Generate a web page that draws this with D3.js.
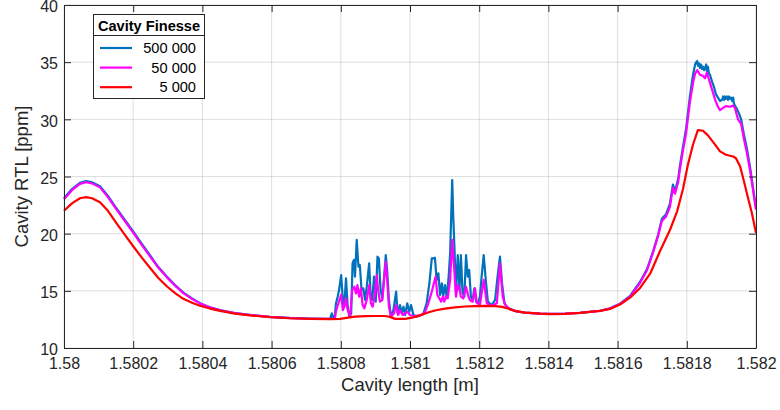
<!DOCTYPE html>
<html>
<head>
<meta charset="utf-8">
<script src="https://cdn.jsdelivr.net/npm/d3@7"></script>
<style>
  html, body { margin: 0; padding: 0; background: #fff; }
  svg { display: block; font-family: "Liberation Sans", Arial, Helvetica, sans-serif; }
</style>
</head>
<body>
<svg id="chart" width="780" height="410"></svg>
<script>
// Round-trip loss of the cavity versus its length, for three cavity finesse values.
// Each series is a list of [length (m), RTL (ppm)] samples.

const finesse500k = [
  [1.580000, 23.1], [1.580023, 23.9], [1.580046, 24.45], [1.580064, 24.6], [1.580081, 24.5],
  [1.580104, 24.15], [1.580127, 23.3], [1.580152, 22.2], [1.580176, 21.2], [1.580200, 20.2],
  [1.580225, 19.1], [1.580249, 18.1], [1.580272, 17.1], [1.580297, 16.25], [1.580321, 15.5],
  [1.580345, 14.85], [1.580370, 14.33], [1.580393, 13.92], [1.580422, 13.57], [1.580451, 13.31],
  [1.580494, 13.06], [1.580538, 12.89], [1.580595, 12.73], [1.580653, 12.63], [1.580711, 12.57],
  [1.580769, 12.54], [1.580774, 13.03], [1.580777, 12.59], [1.580783, 12.9], [1.580786, 13.91],
  [1.580790, 14.34], [1.580795, 15.07], [1.580801, 16.38], [1.580806, 14.2], [1.580810, 13.61],
  [1.580815, 16.09], [1.580820, 13.61], [1.580825, 12.74], [1.580830, 13.03], [1.580834, 17.41],
  [1.580838, 17.70], [1.580841, 16.24], [1.580846, 19.45], [1.580851, 17.11], [1.580855, 17.26],
  [1.580860, 15.07], [1.580865, 15.22], [1.580870, 14.2], [1.580875, 15.36], [1.580882, 17.41],
  [1.580886, 14.78], [1.580891, 14.2], [1.580896, 16.24], [1.580901, 14.05], [1.580906, 17.99],
  [1.580910, 17.84], [1.580915, 15.07], [1.580920, 14.34], [1.580926, 16.53], [1.580930, 18.13],
  [1.580934, 16.82], [1.580939, 14.2], [1.580945, 12.74], [1.580952, 13.32], [1.580960, 14.93],
  [1.580964, 13.03], [1.580971, 13.76], [1.580976, 13.03], [1.580981, 13.61], [1.580986, 12.89],
  [1.580992, 13.91], [1.580998, 13.18], [1.581003, 13.76], [1.581010, 12.89], [1.581019, 12.74],
  [1.581029, 12.85], [1.581038, 12.95], [1.581048, 13.91], [1.581056, 15.66], [1.581063, 17.84],
  [1.581067, 17.84], [1.581072, 17.9], [1.581077, 15.95], [1.581082, 16.53], [1.581087, 14.64],
  [1.581092, 15.66], [1.581096, 14.49], [1.581101, 15.51], [1.581106, 14.49], [1.581111, 15.95],
  [1.581116, 18.28], [1.581119, 21.5], [1.581122, 24.69], [1.581125, 21.5], [1.581128, 19.15],
  [1.581133, 14.78], [1.581138, 18.13], [1.581143, 15.07], [1.581147, 18.13], [1.581152, 14.78],
  [1.581157, 14.49], [1.581162, 18.13], [1.581167, 16.24], [1.581171, 16.82], [1.581176, 14.49],
  [1.581181, 14.2], [1.581186, 15.22], [1.581191, 14.05], [1.581197, 13.91], [1.581202, 14.5],
  [1.581207, 16.24], [1.581213, 18.13], [1.581219, 15.95], [1.581225, 14.05], [1.581236, 13.76],
  [1.581246, 14.2], [1.581252, 15.95], [1.581260, 18.0], [1.581266, 15.66], [1.581273, 13.91],
  [1.581284, 13.47], [1.581308, 13.2], [1.581332, 13.1], [1.581376, 13.0], [1.581405, 12.98],
  [1.581448, 13.0], [1.581491, 13.08], [1.581549, 13.26], [1.581578, 13.47], [1.581607, 13.88],
  [1.581636, 14.55], [1.581665, 15.8], [1.581685, 16.9], [1.581702, 18.4], [1.581717, 19.9],
  [1.581728, 21.3], [1.581740, 21.7], [1.581751, 22.6], [1.581760, 24.3], [1.581766, 23.7],
  [1.581775, 24.8], [1.581780, 25.9], [1.581789, 27.6], [1.581798, 29.2], [1.581809, 32.0],
  [1.581818, 33.9], [1.581824, 34.8], [1.581827, 35.0], [1.581830, 35.1], [1.581832, 34.7],
  [1.581835, 34.9], [1.581838, 34.5], [1.581841, 34.8], [1.581844, 34.4], [1.581847, 34.6],
  [1.581850, 34.3], [1.581853, 34.5], [1.581856, 34.8], [1.581858, 34.2], [1.581861, 34.6],
  [1.581864, 34.0], [1.581867, 33.9], [1.581873, 33.3], [1.581879, 32.8], [1.581884, 32.2],
  [1.581890, 31.9], [1.581896, 31.6], [1.581902, 31.7], [1.581905, 32.0], [1.581908, 31.7],
  [1.581910, 32.0], [1.581913, 31.8], [1.581916, 32.0], [1.581919, 31.7], [1.581922, 32.0],
  [1.581925, 31.8], [1.581928, 31.9], [1.581931, 31.6], [1.581934, 31.9], [1.581936, 31.4],
  [1.581939, 31.2], [1.581945, 30.9], [1.581951, 30.5], [1.581957, 30.0], [1.581965, 28.7],
  [1.581974, 27.4], [1.581983, 25.8], [1.581991, 24.1], [1.582000, 22.2]
];

const finesse50k = [
  [1.580000, 23.0], [1.580023, 23.8], [1.580046, 24.35], [1.580064, 24.5], [1.580081, 24.4],
  [1.580104, 24.05], [1.580127, 23.2], [1.580152, 22.1], [1.580176, 21.1], [1.580200, 20.1],
  [1.580225, 19.0], [1.580249, 18.0], [1.580272, 17.05], [1.580297, 16.2], [1.580321, 15.45],
  [1.580345, 14.8], [1.580370, 14.3], [1.580393, 13.9], [1.580422, 13.55], [1.580451, 13.3],
  [1.580494, 13.05], [1.580538, 12.88], [1.580595, 12.72], [1.580653, 12.62], [1.580711, 12.56],
  [1.580769, 12.54], [1.580783, 12.59], [1.580786, 13.2], [1.580793, 13.91], [1.580801, 14.64],
  [1.580806, 13.32], [1.580810, 13.61], [1.580815, 14.34], [1.580820, 13.32], [1.580827, 12.74],
  [1.580833, 15.07], [1.580839, 15.36], [1.580844, 14.78], [1.580848, 15.51], [1.580853, 14.49],
  [1.580858, 15.22], [1.580863, 13.76], [1.580868, 13.47], [1.580875, 14.2], [1.580882, 15.51],
  [1.580887, 13.91], [1.580892, 13.61], [1.580899, 14.78], [1.580904, 16.38], [1.580908, 15.07],
  [1.580913, 14.05], [1.580920, 14.2], [1.580925, 15.95], [1.580930, 17.55], [1.580934, 15.95],
  [1.580939, 13.61], [1.580945, 12.74], [1.580954, 13.03], [1.580960, 13.76], [1.580966, 12.89],
  [1.580971, 13.32], [1.580979, 12.89], [1.580986, 13.03], [1.580992, 13.18], [1.581000, 12.89],
  [1.581010, 12.8], [1.581029, 12.85], [1.581043, 13.1], [1.581053, 13.91], [1.581063, 14.93],
  [1.581069, 15.66], [1.581074, 16.24], [1.581079, 14.64], [1.581085, 14.34], [1.581090, 14.05],
  [1.581095, 14.49], [1.581099, 14.05], [1.581104, 14.49], [1.581109, 14.34], [1.581116, 15.95],
  [1.581119, 17.8], [1.581122, 19.45], [1.581125, 18.0], [1.581128, 16.82], [1.581133, 14.49],
  [1.581138, 15.51], [1.581143, 15.22], [1.581147, 14.49], [1.581154, 14.34], [1.581162, 15.36],
  [1.581169, 14.49], [1.581173, 14.2], [1.581181, 14.05], [1.581188, 15.22], [1.581193, 13.96],
  [1.581202, 13.76], [1.581213, 15.95], [1.581222, 13.91], [1.581236, 13.7], [1.581251, 13.91],
  [1.581260, 17.41], [1.581268, 14.49], [1.581275, 13.76], [1.581289, 13.4], [1.581308, 13.2],
  [1.581332, 13.1], [1.581376, 13.0], [1.581405, 12.98], [1.581448, 13.0], [1.581491, 13.08],
  [1.581549, 13.25], [1.581578, 13.45], [1.581607, 13.85], [1.581636, 14.5], [1.581665, 15.7],
  [1.581685, 16.8], [1.581702, 18.3], [1.581717, 19.8], [1.581728, 21.1], [1.581740, 21.5],
  [1.581751, 22.3], [1.581760, 24.0], [1.581766, 23.5], [1.581775, 24.5], [1.581780, 25.6],
  [1.581789, 27.3], [1.581798, 28.8], [1.581809, 31.5], [1.581818, 33.2], [1.581824, 34.0],
  [1.581830, 34.3], [1.581838, 33.9], [1.581847, 33.8], [1.581853, 33.6], [1.581858, 34.1],
  [1.581864, 33.5], [1.581873, 32.6], [1.581882, 31.7], [1.581890, 31.1], [1.581896, 30.8],
  [1.581905, 31.0], [1.581913, 31.15], [1.581925, 31.1], [1.581934, 31.2], [1.581939, 31.0],
  [1.581948, 30.0], [1.581957, 29.6], [1.581965, 28.3], [1.581974, 27.0], [1.581983, 25.5],
  [1.581991, 23.9], [1.582000, 22.1]
];

const finesse5k = [
  [1.580000, 22.0], [1.580023, 22.65], [1.580046, 23.1], [1.580064, 23.2], [1.580081, 23.1],
  [1.580104, 22.75], [1.580127, 22.0], [1.580152, 20.9], [1.580176, 19.9], [1.580200, 18.9],
  [1.580225, 17.9], [1.580249, 17.0], [1.580272, 16.15], [1.580297, 15.4], [1.580321, 14.8],
  [1.580345, 14.3], [1.580370, 13.95], [1.580393, 13.7], [1.580422, 13.45], [1.580451, 13.25],
  [1.580494, 13.0], [1.580538, 12.85], [1.580595, 12.7], [1.580653, 12.6], [1.580711, 12.55],
  [1.580769, 12.53], [1.580798, 12.55], [1.580821, 12.65], [1.580841, 12.75], [1.580870, 12.78],
  [1.580899, 12.8], [1.580928, 12.8], [1.580942, 12.72], [1.580957, 12.55], [1.580986, 12.55],
  [1.581006, 12.65], [1.581029, 12.85], [1.581052, 13.1], [1.581075, 13.3], [1.581101, 13.45],
  [1.581130, 13.55], [1.581159, 13.63], [1.581188, 13.67], [1.581217, 13.68], [1.581246, 13.66],
  [1.581266, 13.6], [1.581283, 13.45], [1.581303, 13.25], [1.581332, 13.1], [1.581376, 13.0],
  [1.581405, 12.97], [1.581448, 12.99], [1.581491, 13.07], [1.581549, 13.24], [1.581578, 13.42],
  [1.581607, 13.8], [1.581636, 14.4], [1.581665, 15.25], [1.581694, 16.5], [1.581723, 18.5],
  [1.581751, 20.3], [1.581772, 21.95], [1.581789, 23.9], [1.581803, 26.0], [1.581818, 27.8],
  [1.581832, 29.05], [1.581847, 29.0], [1.581861, 28.6], [1.581879, 27.9], [1.581896, 27.2],
  [1.581913, 26.9], [1.581934, 26.75], [1.581942, 26.6], [1.581954, 25.9], [1.581965, 24.6],
  [1.581974, 23.5], [1.581988, 21.8], [1.582000, 20.05]
];

const seriesNames = ["500 000", "50 000", "5 000"];
const seriesColors = ["#0072BD", "#FF00FF", "#FF0000"];
const xTicks = [1.58, 1.5802, 1.5804, 1.5806, 1.5808, 1.581, 1.5812, 1.5814, 1.5816, 1.5818, 1.582];
const yTicks = [10, 15, 20, 25, 30, 35, 40];

const margin = { top: 5, right: 24, bottom: 62, left: 64 };
const W = 780, H = 410;
const iw = W - margin.left - margin.right;
const ih = H - margin.top - margin.bottom;

const svg = d3.select("#chart");
const g = svg.append("g").attr("transform", `translate(${margin.left},${margin.top})`);

const x = d3.scaleLinear().domain([1.58, 1.582]).range([0, iw]);
const y = d3.scaleLinear().domain([10, 40]).range([ih, 0]);

const axisColor = "#262626";

// grid
const grid = g.append("g").attr("class", "grid");
grid.selectAll("line.vx").data(xTicks).join("line")
  .attr("x1", d => x(d)).attr("x2", d => x(d))
  .attr("y1", 0).attr("y2", ih)
  .attr("stroke", axisColor).attr("stroke-opacity", 0.15).attr("stroke-width", 1);
grid.selectAll("line.hy").data(yTicks).join("line")
  .attr("x1", 0).attr("x2", iw)
  .attr("y1", d => y(d)).attr("y2", d => y(d))
  .attr("stroke", axisColor).attr("stroke-opacity", 0.15).attr("stroke-width", 1);

// curves, lowest finesse drawn last
const line = d3.line().x(d => x(d[0])).y(d => y(d[1]));
const allSeries = [finesse500k, finesse50k, finesse5k];
const plot = g.append("g");
allSeries.forEach((s, i) => {
  plot.append("path").datum(s)
    .attr("fill", "none")
    .attr("stroke", seriesColors[i])
    .attr("stroke-width", 2.2)
    .attr("stroke-linejoin", "round")
    .attr("d", line);
});

// axes with inward ticks on all four sides
const fmtX = d => String(+d.toFixed(4));
function styleAxis(sel) {
  sel.select(".domain").attr("stroke", axisColor).attr("stroke-width", 1);
  sel.selectAll(".tick line").attr("stroke", axisColor);
  sel.selectAll(".tick text").attr("fill", axisColor).attr("font-size", 16);
}
g.append("g").attr("transform", `translate(0,${ih})`)
  .call(d3.axisBottom(x).tickValues(xTicks).tickFormat(fmtX).tickSize(-7).tickSizeOuter(0).tickPadding(10))
  .call(styleAxis)
  .call(s => s.attr("font-family", null));
g.append("g")
  .call(d3.axisTop(x).tickValues(xTicks).tickFormat("").tickSize(-7).tickSizeOuter(0))
  .call(styleAxis);
g.append("g")
  .call(d3.axisLeft(y).tickValues(yTicks).tickSize(-7).tickSizeOuter(0).tickPadding(6))
  .call(styleAxis)
  .call(s => s.attr("font-family", null))
  .call(s => s.selectAll(".tick text").attr("dy", "0.42em"));
g.append("g").attr("transform", `translate(${iw},0)`)
  .call(d3.axisRight(y).tickValues(yTicks).tickFormat("").tickSize(-7).tickSizeOuter(0))
  .call(styleAxis);

// axis titles
svg.append("text")
  .attr("x", margin.left + iw / 2).attr("y", 391)
  .attr("text-anchor", "middle").attr("font-size", 18.5).attr("fill", axisColor)
  .text("Cavity length [m]");
svg.append("text")
  .attr("transform", `translate(28,${margin.top + ih / 2}) rotate(-90)`)
  .attr("text-anchor", "middle").attr("font-size", 18.5).attr("fill", axisColor)
  .text("Cavity RTL [ppm]");

// legend
const lg = svg.append("g").attr("transform", "translate(93,14)");
lg.append("rect").attr("x", 0.5).attr("y", 0.5).attr("width", 111).attr("height", 84)
  .attr("fill", "#fff").attr("stroke", axisColor).attr("stroke-width", 1);
lg.append("line").attr("x1", 0.5).attr("x2", 111.5).attr("y1", 21.5).attr("y2", 21.5)
  .attr("stroke", axisColor).attr("stroke-width", 1);
lg.append("text").attr("x", 56).attr("y", 17)
  .attr("text-anchor", "middle").attr("font-size", 14.6).attr("font-weight", "bold").attr("fill", "#000")
  .text("Cavity Finesse");
seriesNames.forEach((name, i) => {
  const yy = 34 + i * 19.6;
  lg.append("line").attr("x1", 7).attr("x2", 39).attr("y1", yy).attr("y2", yy)
    .attr("stroke", seriesColors[i]).attr("stroke-width", 2.2);
  lg.append("text").attr("x", 103).attr("y", yy).attr("dy", "0.35em")
    .attr("text-anchor", "end").attr("font-size", 14.6).attr("fill", "#000")
    .text(name);
});
</script>
</body>
</html>
